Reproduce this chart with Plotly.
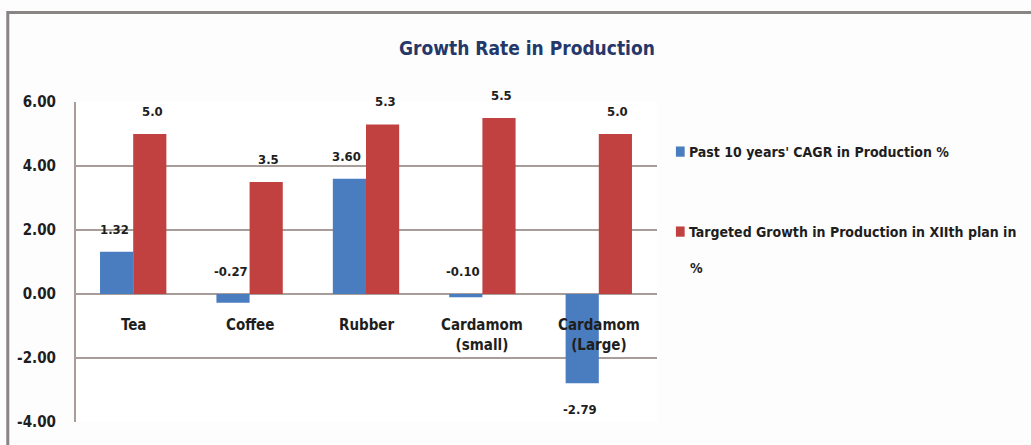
import plotly.graph_objects as go

# Crops and the two growth measures (%)
crops = ["Tea", "Coffee", "Rubber", "Cardamom<br>(small)", "Cardamom<br>(Large)"]
past_cagr = [1.32, -0.27, 3.60, -0.10, -2.79]
targeted_growth = [5.0, 3.5, 5.3, 5.5, 5.0]
past_labels = ["1.32", "-0.27", "3.60", "-0.10", "-2.79"]
target_labels = ["5.0", "3.5", "5.3", "5.5", "5.0"]
y_ticks = [-4, -2, 0, 2, 4, 6]
y_tick_text = ["-4.00", "-2.00", "0.00", "2.00", "4.00", "6.00"]

series_names = [
    "Past 10 years' CAGR in Production %",
    "Targeted Growth in Production in XIIth plan in",
]
series_name_tail = "%"

BLUE = "#4a7cc0"
RED = "#c0413f"
GRID = "#a89d98"
FONT = "DejaVu Sans Condensed, Liberation Sans Narrow, sans-serif"
TEXT = "#1e1e1e"

fig = go.Figure()
fig.add_trace(go.Bar(x=crops, y=past_cagr, name=series_names[0],
                     marker=dict(color=BLUE, line=dict(width=0))))
fig.add_trace(go.Bar(x=crops, y=targeted_growth, name=series_names[1],
                     marker=dict(color=RED, line=dict(width=0))))

annotations = []
# value labels above each bar (below the bar for large negatives)
for series, labels, off in ((past_cagr, past_labels, -0.2), (targeted_growth, target_labels, 0.2)):
    for i, (v, t) in enumerate(zip(series, labels)):
        if v > -0.5:
            annotations.append(dict(x=i + off * 0.82, y=max(v, 0), xref="x", yref="y",
                                    text=t, showarrow=False, yanchor="bottom", yshift=13,
                                    font=dict(family=FONT, size=13, color=TEXT, weight="bold")))
        else:
            annotations.append(dict(x=i + off * 0.82, y=v, xref="x", yref="y",
                                    text=t, showarrow=False, yanchor="top", yshift=-17,
                                    font=dict(family=FONT, size=13, color=TEXT, weight="bold")))

# category labels sitting just under the zero line
for i, c in enumerate(crops):
    annotations.append(dict(x=i, y=0, xref="x", yref="y", text=c, showarrow=False,
                            yanchor="top", yshift=-20,
                            font=dict(family=FONT, size=15, color=TEXT, weight="bold")))

annotations.append(dict(x=0.776, y=1.17, xref="paper", yref="paper",
                        text="Growth Rate in Production", showarrow=False,
                        xanchor="center", yanchor="middle",
                        font=dict(family=FONT, size=19, color="#24386a", weight="bold")))

# legend: swatch + label per series
legend_font = dict(family=FONT, size=14, color=TEXT, weight="bold")
legend_rows = [(0.845, BLUE), (0.595, RED)]
shapes = []
for (ly, col), name in zip(legend_rows, series_names):
    shapes.append(dict(type="rect", xref="paper", yref="paper",
                       x0=1.0325, x1=1.0475, y0=ly - 0.016, y1=ly + 0.016,
                       fillcolor=col, line=dict(width=0)))
    annotations.append(dict(x=1.051, y=ly, xref="paper", yref="paper", text=name,
                            showarrow=False, xanchor="left", yanchor="middle",
                            font=legend_font))
annotations.append(dict(x=1.053, y=0.482, xref="paper", yref="paper", text=series_name_tail,
                        showarrow=False, xanchor="left", yanchor="middle", font=legend_font))

shapes += [
    # outer chart frame (left and top edges)
    dict(type="rect", xref="paper", yref="paper",
         x0=-0.1155, x1=1.75, y0=-0.2, y1=1.28,
         line=dict(color="#8a8585", width=3), fillcolor="rgba(0,0,0,0)", layer="below"),
    # left edge of the plotting area
    dict(type="line", xref="paper", yref="paper", x0=0, x1=0, y0=0, y1=1,
         line=dict(color=GRID, width=2)),
]

fig.update_layout(
    width=1031, height=445,
    margin=dict(l=75, r=374, t=102, b=23),
    paper_bgcolor="#fdfdfd", plot_bgcolor="#ffffff",
    barmode="group", bargap=0.43, bargroupgap=0,
    showlegend=False,
    xaxis=dict(showticklabels=False, showgrid=False, zeroline=False, showline=False,
               ticks=""),
    yaxis=dict(range=[-4, 6], tickvals=y_ticks, ticktext=y_tick_text,
               showgrid=True, gridcolor=GRID, gridwidth=2,
               zeroline=True, zerolinecolor=GRID, zerolinewidth=2,
               showline=False, ticks="", ticklabelstandoff=18,
               tickfont=dict(family=FONT, size=15, color=TEXT, weight="bold")),
    annotations=annotations,
    shapes=shapes,
)

fig.write_html("out.html")
